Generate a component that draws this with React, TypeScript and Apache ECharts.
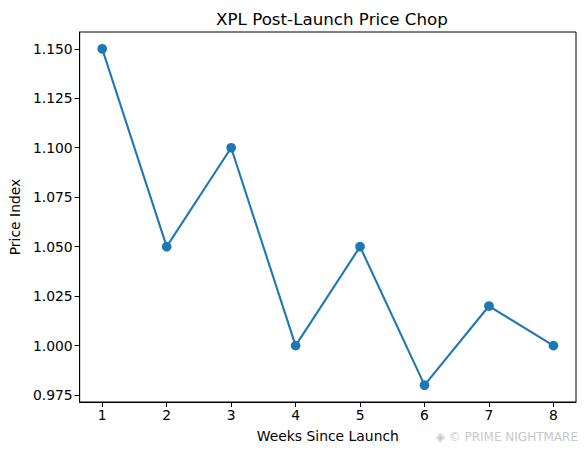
import React, { useEffect, useRef } from "react";
import * as echarts from "echarts";

const weeks = [1, 2, 3, 4, 5, 6, 7, 8];
const priceIndex = [1.15, 1.05, 1.1, 1.0, 1.05, 0.98, 1.02, 1.0];
const yTicks = [0.975, 1.0, 1.025, 1.05, 1.075, 1.1, 1.125, 1.15];
const xTicks = [1, 2, 3, 4, 5, 6, 7, 8];

const FONT = "DejaVu Sans";

export default function App() {
  const ref = useRef<HTMLDivElement>(null);
  useEffect(() => {
    if (!ref.current) return;
    document.body.style.margin = "0";
    const chart = echarts.init(ref.current, undefined, { renderer: "svg" });
    chart.setOption({
      animation: false,
      backgroundColor: "#ffffff",
      title: {
        text: "XPL Post-Launch Price Chop",
        left: 327,
        top: 5,
        textAlign: "center",
        textStyle: { fontFamily: FONT, fontSize: 16.7, fontWeight: "normal", color: "#000" },
      },
      grid: {
        left: 79,
        right: 8,
        top: 32,
        bottom: 53,
        show: true,
        borderColor: "#000",
        borderWidth: 1,
        backgroundColor: "transparent",
      },
      xAxis: {
        type: "value",
        min: 0.65,
        max: 8.35,
        name: "Weeks Since Launch",
        nameLocation: "middle",
        nameGap: 27,
        nameTextStyle: { fontFamily: FONT, fontSize: 13.9, color: "#000" },
        splitLine: { show: false },
        axisLine: { show: true, lineStyle: { color: "#000", width: 1 } },
        axisTick: { show: true, customValues: xTicks, length: 5, lineStyle: { color: "#000" } },
        axisLabel: {
          customValues: xTicks,
          fontFamily: FONT,
          fontSize: 13.9,
          color: "#000",
          margin: 6,
          formatter: (v: number) => String(v),
        },
      },
      yAxis: {
        type: "value",
        min: 0.9715,
        max: 1.1585,
        name: "Price Index",
        nameLocation: "middle",
        nameRotate: 90,
        nameGap: 57,
        nameTextStyle: { fontFamily: FONT, fontSize: 13.9, color: "#000" },
        splitLine: { show: false },
        axisLine: { show: true, lineStyle: { color: "#000", width: 1 } },
        axisTick: { show: true, customValues: yTicks, length: 5, lineStyle: { color: "#000" } },
        axisLabel: {
          customValues: yTicks,
          fontFamily: FONT,
          fontSize: 13.9,
          color: "#000",
          margin: 7,
          formatter: (v: number) => v.toFixed(3),
        },
      },
      graphic: [
        {
          type: "text",
          right: 6,
          top: 431,
          style: {
            text: "◈ © PRIME NIGHTMARE",
            fill: "#c8c8c8",
            fontFamily: FONT,
            fontSize: 12,
          },
        },
      ],
      series: [
        {
          type: "line",
          data: weeks.map((w, i) => [w, priceIndex[i]]),
          symbol: "circle",
          symbolSize: 9.7,
          itemStyle: { color: "#1f77b4" },
          lineStyle: { color: "#1f77b4", width: 2.1 },
        },
      ],
    });
    return () => chart.dispose();
  }, []);
  return <div ref={ref} style={{ width: 584, height: 455, position: "absolute", left: 0, top: 0 }} />;
}
